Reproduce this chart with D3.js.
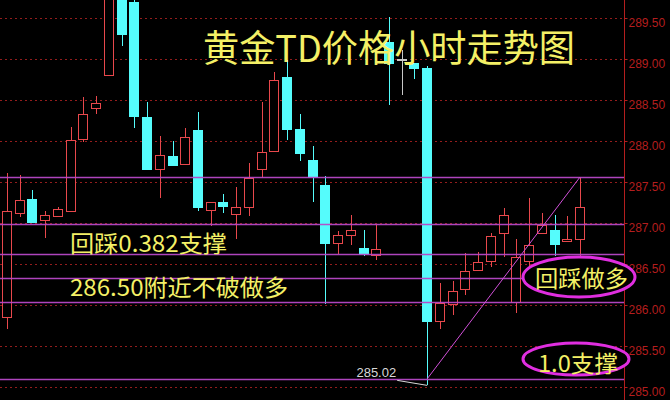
<!DOCTYPE html>
<html>
<head>
<meta charset="utf-8">
<script src="https://cdn.jsdelivr.net/npm/d3@7"></script>
<style>
  html, body { margin: 0; padding: 0; background: #000; }
  svg { display: block; }
</style>
</head>
<body>
<svg id="chart" width="670" height="400"></svg>
<script>
// ---------------- data ----------------
const bars   = ["b1","b2","b3","b4","b5","b6","b7","b8","b9","b10","b11","b12","b13","b14","b15","b16","b17","b18","b19","b20","b21","b22","b23","b24","b25","b26","b27","b28","b29","b30","b31","b32","b33","b34","b35","b36","b37","b38","b39","b40","b41","b42","b43","b44","b45","b46"];
const opens  = [285.85,287.12,287.29,287.04,287.09,287.15,288.02,288.40,288.80,289.90,289.70,288.29,287.66,287.82,287.72,288.13,287.16,287.26,287.11,287.20,287.66,287.88,288.78,288.15,287.77,287.46,286.76,286.85,286.70,286.61,289.21,289.00,288.95,288.89,285.80,286.01,286.20,286.43,286.54,286.88,286.04,286.54,286.88,286.91,286.78,286.80];
const highs  = [287.61,287.59,287.40,287.15,287.20,288.17,288.54,288.55,289.95,289.95,289.74,288.48,288.06,288.00,288.16,288.35,287.26,287.35,287.44,287.73,288.48,288.84,288.99,288.33,287.94,287.57,286.90,287.10,286.91,286.98,289.51,289.11,288.95,288.91,286.27,286.29,286.63,286.65,286.88,287.18,286.80,287.30,287.12,287.10,287.09,287.56];
const lows   = [285.71,287.07,287.01,286.82,287.09,287.15,287.99,288.33,288.80,289.16,288.16,287.66,287.30,287.71,287.72,287.15,286.96,287.12,286.80,287.09,287.55,287.88,288.01,287.76,287.26,286.01,286.62,286.73,286.60,286.55,288.44,288.56,288.76,285.02,285.71,285.88,286.12,286.43,286.46,286.59,285.90,286.48,286.88,286.60,286.78,286.60];
const closes = [287.15,287.28,287.01,287.10,287.17,288.01,288.33,288.46,289.85,289.30,288.30,287.66,287.83,287.71,288.05,287.20,287.26,287.21,287.20,287.55,287.87,288.74,288.15,287.85,287.56,286.76,286.85,286.91,286.62,286.68,288.95,289.00,288.89,285.80,286.02,286.17,286.41,286.52,286.84,287.10,286.59,286.73,286.98,286.74,286.80,287.20];
const priceTicks = [285.00,285.50,286.00,286.50,287.00,287.50,288.00,288.50,289.00,289.50];
const fibLevels  = [287.56,286.99,286.62,286.33,286.04,285.10];
const lowLabel   = 285.02;
const titleText  = "黄金TD价格小时走势图";
const noteTexts  = ["回踩0.382支撑","286.50附近不破做多"];
const badgeTexts = ["回踩做多","1.0支撑"];

// ---------------- layout ----------------
const W = 670, H = 400, plotRight = 624;
const svg = d3.select("#chart");
svg.append("rect").attr("width", W).attr("height", H).attr("fill", "#000");

const y = d3.scaleLinear().domain([285, 289.5]).range([387, 18]);
const x = d3.scalePoint().domain(bars).range([7, 580]);
const step = x.step();
const bodyW = Math.round(step * 0.82);

const defs = svg.append("defs");
defs.append("clipPath").attr("id", "plotClip")
  .append("rect").attr("x", 0).attr("y", 0).attr("width", plotRight).attr("height", H);

const C_RED = "#e8484c", C_CYAN = "#55fcfc", C_GRID = "#931d1d", C_AXIS = "#b41e1e",
      C_FIB = "#b848c8", C_YEL = "#f4f066", C_ELL = "#e02ee0";

// grid lines (dotted)
const grid = svg.append("g").attr("clip-path", "url(#plotClip)");
grid.selectAll("line").data(priceTicks).join("line")
  .attr("x1", 0).attr("x2", plotRight)
  .attr("y1", d => Math.round(y(d)) + 0.5).attr("y2", d => Math.round(y(d)) + 0.5)
  .attr("stroke", C_GRID).attr("stroke-width", 1).attr("stroke-dasharray", "2,3");

// candles
const data = bars.map((b, i) => ({b, o: opens[i], h: highs[i], l: lows[i], c: closes[i]}));
const cg = svg.append("g").attr("clip-path", "url(#plotClip)").attr("shape-rendering", "crispEdges");
const colorOf = d => d.c > d.o ? C_RED : (d.c < d.o ? C_CYAN : "#c8c8c8");
const cx = d => Math.round(x(d.b)) + 0.5;

cg.selectAll("line.wick").data(data).join("line").attr("class", "wick")
  .attr("x1", cx).attr("x2", cx)
  .attr("y1", d => Math.round(y(d.h))).attr("y2", d => Math.round(y(d.l)))
  .attr("stroke", colorOf).attr("stroke-width", 1);

cg.selectAll("rect.body").data(data).join("rect").attr("class", "body")
  .attr("x", d => Math.round(x(d.b) - bodyW / 2) + 0.5)
  .attr("y", d => Math.round(y(Math.max(d.o, d.c))) + 0.5)
  .attr("width", bodyW - 1)
  .attr("height", d => Math.max(0.5, Math.round(y(Math.min(d.o, d.c))) - Math.round(y(Math.max(d.o, d.c)))))
  .attr("fill", d => d.c > d.o ? "#000" : colorOf(d))
  .attr("stroke", colorOf).attr("stroke-width", 1);

// fibonacci / support lines
const fg = svg.append("g");
fg.selectAll("line").data(fibLevels).join("line")
  .attr("x1", 0).attr("x2", plotRight)
  .attr("y1", d => Math.round(y(d)) + 0.5).attr("y2", d => Math.round(y(d)) + 0.5)
  .attr("stroke", C_FIB).attr("stroke-width", 1.6).attr("opacity", 0.95);

// diagonal trend line: from fib 1.0 at the big bar to the top level at the last bar
fg.append("line")
  .attr("x1", x(bars[33])).attr("y1", y(fibLevels[5]))
  .attr("x2", x(bars[45])).attr("y2", y(fibLevels[0]))
  .attr("stroke", "#d050d8").attr("stroke-width", 1);

// low marker
const lx = x(bars[33]), ly = y(lowLabel);
svg.append("line").attr("x1", lx).attr("y1", ly).attr("x2", lx - 30).attr("y2", ly - 5)
  .attr("stroke", "#d8d8d8").attr("stroke-width", 1);
svg.append("text").attr("x", lx - 31).attr("y", ly - 8).attr("text-anchor", "end")
  .attr("font-family", "Liberation Sans, Arial, sans-serif").attr("font-size", 13)
  .attr("fill", "#d8d8d8").text(lowLabel.toFixed(2));

// right axis
const axis = d3.axisRight(y).tickValues(priceTicks).tickSize(3).tickPadding(1)
  .tickFormat(d3.format(".2f"));
const ag = svg.append("g").attr("transform", `translate(${plotRight + 0.5},0)`).call(axis);
ag.select(".domain").attr("stroke", C_AXIS).attr("d", `M0,0V${H}`);
ag.selectAll(".tick line").attr("stroke", C_AXIS);
ag.selectAll(".tick text").attr("fill", C_AXIS).attr("dy", "0.72em")
  .attr("font-family", "Liberation Sans, Arial, sans-serif").attr("font-size", 12);

// title
const CJK = "'Noto Sans CJK SC', 'Noto Sans', sans-serif";
svg.append("text").attr("x", 203).attr("y", 62)
  .attr("font-family", CJK).attr("font-size", 37).attr("fill", C_YEL)
  .attr("textLength", 372).attr("lengthAdjust", "spacingAndGlyphs")
  .text(titleText);

// notes
svg.append("text").attr("x", 70).attr("y", 252)
  .attr("font-family", CJK).attr("font-size", 23).attr("fill", C_YEL)
  .attr("textLength", 157).attr("lengthAdjust", "spacingAndGlyphs").text(noteTexts[0]);
svg.append("text").attr("x", 70).attr("y", 296)
  .attr("font-family", CJK).attr("font-size", 23).attr("fill", C_YEL)
  .attr("textLength", 218).attr("lengthAdjust", "spacingAndGlyphs").text(noteTexts[1]);

// badges
const badges = [
  {t: badgeTexts[0], cx: 579, cy: 277, rx: 56, ry: 20, tx: 535, ty: 287, tl: 93},
  {t: badgeTexts[1], cx: 576, cy: 359, rx: 53, ry: 16, tx: 538, ty: 372, tl: 80}
];
badges.forEach(b => {
  svg.append("ellipse").attr("cx", b.cx).attr("cy", b.cy).attr("rx", b.rx).attr("ry", b.ry)
    .attr("fill", "#000").attr("stroke", C_ELL).attr("stroke-width", 3);
  svg.append("text").attr("x", b.tx).attr("y", b.ty)
    .attr("font-family", CJK).attr("font-size", 23).attr("fill", C_YEL)
    .attr("textLength", b.tl).attr("lengthAdjust", "spacingAndGlyphs").text(b.t);
});
</script>
</body>
</html>
